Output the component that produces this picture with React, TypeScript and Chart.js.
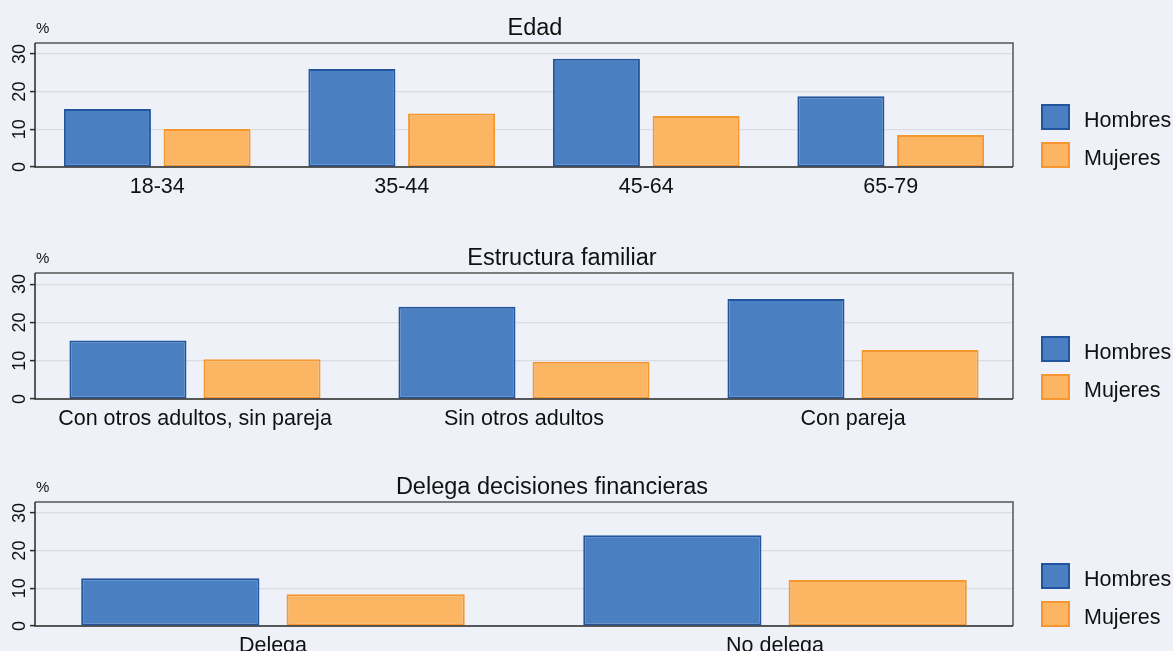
import React, { useEffect, useRef } from "react";
import { Chart, registerables } from "chart.js";
Chart.register(...registerables);

// ---------- data ----------
const seriesLabels = ["Hombres", "Mujeres"];
const yTickValues = [0, 10, 20, 30];
const yMax = 32.9;
const unitLabel = "%";

const edadTitle = "Edad";
const edadCategories = ["18-34", "35-44", "45-64", "65-79"];
const edadHombres = [15.4, 26.0, 28.7, 18.8];
const edadMujeres = [10.1, 14.2, 13.5, 8.5];

const familiaTitle = "Estructura familiar";
const familiaCategories = ["Con otros adultos, sin pareja", "Sin otros adultos", "Con pareja"];
const familiaHombres = [15.3, 24.1, 26.1];
const familiaMujeres = [10.4, 9.7, 12.8];

const delegaTitle = "Delega decisiones financieras";
const delegaCategories = ["Delega", "No delega"];
const delegaHombres = [12.7, 24.1];
const delegaMujeres = [8.4, 12.2];

// ---------- styles ----------
const BG = "#EEF1F8";
const FONT = '"Liberation Sans", Arial, Helvetica, sans-serif';
const HOMBRES_FILL = "#4A80C2";
const HOMBRES_BORDER = "#22559E";
const MUJERES_FILL = "#FBB563";
const MUJERES_BORDER = "#F6962F";
const TEXT = "#111111";

type PanelLayout = {
  height: number;
  top: number;
  xHeight: number;
  titleX: number;
  catPct: number;
  barPct: number;
  xStart?: number;
  xRange?: number;
};

const decorPlugin = {
  id: "decor",
  afterDatasetsDraw(chart: any, _args: any, opts: any) {
    const { ctx, chartArea: a } = chart;
    ctx.save();
    // frame
    ctx.lineWidth = 1.5;
    ctx.strokeStyle = "#555555";
    ctx.beginPath();
    ctx.moveTo(a.left, a.top);
    ctx.lineTo(a.right, a.top);
    ctx.lineTo(a.right, a.bottom);
    ctx.stroke();
    ctx.strokeStyle = "#2a2a2a";
    ctx.beginPath();
    ctx.moveTo(a.left, a.top);
    ctx.lineTo(a.left, a.bottom);
    ctx.lineTo(a.right, a.bottom);
    ctx.stroke();

    ctx.fillStyle = TEXT;
    // y tick labels (rotated)
    const ys = chart.scales.y;
    ctx.font = `18px ${FONT}`;
    ctx.textAlign = "center";
    ctx.textBaseline = "alphabetic";
    ys.ticks.forEach((t: any) => {
      const py = ys.getPixelForValue(t.value);
      ctx.save();
      ctx.translate(a.left - 10, py);
      ctx.rotate(-Math.PI / 2);
      ctx.fillText(String(t.value), 0, 0);
      ctx.restore();
    });

    // x labels
    const xs = chart.scales.x;
    ctx.font = `21.5px ${FONT}`;
    ctx.textAlign = "center";
    (chart.data.labels as string[]).forEach((lab, i) => {
      ctx.fillText(lab, xs.getPixelForValue(i), a.bottom + 26);
    });

    // title
    ctx.font = `23.5px ${FONT}`;
    ctx.fillText(opts.title, opts.titleX, a.top - 8.5);

    // unit
    ctx.font = `15px ${FONT}`;
    ctx.textAlign = "left";
    ctx.fillText(opts.unit, a.left + 1, a.top - 10);

    // legend
    const boxX = 1041;
    const boxW = 29;
    const boxH = 26;
    const gap = 12;
    const startTop = a.bottom + 1 - boxH * 2 - gap;
    ctx.font = `21.5px ${FONT}`;
    chart.data.datasets.forEach((ds: any, i: number) => {
      const top = startTop + i * (boxH + gap);
      ctx.fillStyle = ds.backgroundColor;
      ctx.fillRect(boxX, top, boxW, boxH);
      ctx.strokeStyle = ds.borderColor;
      ctx.lineWidth = 2;
      ctx.strokeRect(boxX + 1, top + 1, boxW - 2, boxH - 2);
      ctx.fillStyle = TEXT;
      ctx.textAlign = "left";
      ctx.fillText(ds.label, 1084, top + 23);
    });
    ctx.restore();
  },
};

function Panel(props: {
  title: string;
  categories: string[];
  hombres: number[];
  mujeres: number[];
  layout: PanelLayout;
}) {
  const ref = useRef<HTMLCanvasElement | null>(null);
  const { title, categories, hombres, mujeres, layout } = props;
  useEffect(() => {
    if (!ref.current) return;
    const chart = new Chart(ref.current, {
      type: "bar",
      data: {
        labels: categories,
        datasets: [
          {
            label: seriesLabels[0],
            data: hombres,
            backgroundColor: HOMBRES_FILL,
            borderColor: HOMBRES_BORDER,
            borderWidth: 2,
            borderSkipped: false,
            categoryPercentage: layout.catPct,
            barPercentage: layout.barPct,
          },
          {
            label: seriesLabels[1],
            data: mujeres,
            backgroundColor: MUJERES_FILL,
            borderColor: MUJERES_BORDER,
            borderWidth: 2,
            borderSkipped: false,
            categoryPercentage: layout.catPct,
            barPercentage: layout.barPct,
          },
        ],
      },
      options: {
        responsive: false,
        animation: false,
        devicePixelRatio: 1,
        layout: { padding: { top: layout.top, right: 160, left: 0, bottom: 0 } },
        plugins: {
          legend: { display: false },
          title: { display: false },
          tooltip: { enabled: false },
          decor: { title, titleX: layout.titleX, unit: unitLabel },
        } as any,
        scales: {
          x: {
            type: "category",
            offset: true,
            grid: { display: false },
            border: { display: false },
            ticks: { display: false },
            afterBuildTicks: (s: any) => {
              if (layout.xStart !== undefined && layout.xRange !== undefined) {
                s._startValue = layout.xStart;
                s._valueRange = layout.xRange;
              }
            },
            afterFit: (s: any) => {
              s.height = layout.xHeight;
            },
          },
          y: {
            min: 0,
            max: yMax,
            grid: {
              color: "#D9DCE3",
              lineWidth: 1.2,
              drawTicks: true,
              tickLength: 5,
              tickColor: "#2a2a2a",
              tickWidth: 1.5,
            },
            border: { display: false },
            ticks: { display: false },
            afterBuildTicks: (s: any) => {
              s.ticks = yTickValues.map((v) => ({ value: v }));
            },
            afterFit: (s: any) => {
              s.width = 35;
            },
          },
        },
      },
      plugins: [decorPlugin],
    } as any);
    return () => chart.destroy();
  }, []);
  return (
    <canvas
      ref={ref}
      width={1173}
      height={layout.height}
      style={{ display: "block", width: 1173, height: layout.height }}
    />
  );
}

export default function App() {
  useEffect(() => {
    document.body.style.margin = "0";
    document.body.style.overflow = "hidden";
    document.body.style.background = BG;
  }, []);
  return (
    <div
      style={{
        position: "absolute",
        left: 0,
        top: 0,
        width: 1173,
        height: 651,
        background: BG,
        overflow: "hidden",
      }}
    >
      <Panel
        title={edadTitle}
        categories={edadCategories}
        hombres={edadHombres}
        mujeres={edadMujeres}
        layout={{ height: 217, top: 43, xHeight: 50, titleX: 535, catPct: 0.8155, barPct: 0.873 }}
      />
      <Panel
        title={familiaTitle}
        categories={familiaCategories}
        hombres={familiaHombres}
        mujeres={familiaMujeres}
        layout={{
          height: 217,
          top: 56,
          xHeight: 35,
          titleX: 562,
          catPct: 0.815,
          barPct: 0.873,
          xStart: -0.4863,
          xRange: 2.9726,
        }}
      />
      <Panel
        title={delegaTitle}
        categories={delegaCategories}
        hombres={delegaHombres}
        mujeres={delegaMujeres}
        layout={{
          height: 217,
          top: 68,
          xHeight: 25,
          titleX: 552,
          catPct: 0.818,
          barPct: 0.868,
          xStart: -0.474,
          xRange: 1.948,
        }}
      />
    </div>
  );
}
